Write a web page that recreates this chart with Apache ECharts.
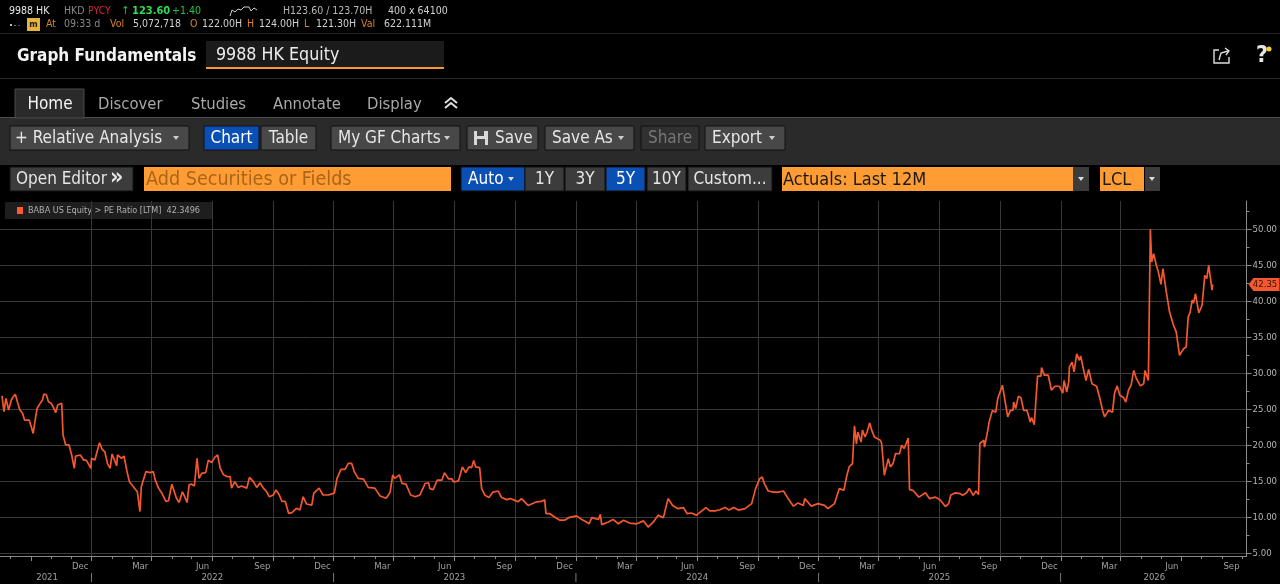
<!DOCTYPE html>
<html><head><meta charset="utf-8">
<style>html,body{margin:0;padding:0;background:#000;overflow:hidden}#c{width:1280px;height:584px}</style>
<script src="https://cdn.jsdelivr.net/npm/echarts@6/dist/echarts.min.js"></script>
</head><body><div id="c"></div>
<script>
const startDate = '2021-07-16';
const endDate = '2026-09-07';
const dayOffsets = [3,6,9,13,17,20,23,27,30,34,37,40,44,47,50,53,56,60,64,66,70,73,77,80,84,87,93,95,99,104,108,112,114,121,126,130,137,138,143,147,150,154,158,162,166,169,176,177,183,187,191,195,201,207,211,213,216,220,226,231,234,239,244,247,250,254,259,262,266,270,275,278,282,285,289,293,297,300,304,310,314,319,324,328,332,337,342,347,349,354,359,364,372,376,382,387,392,397,402,406,412,416,421,425,430,435,440,447,452,457,462,470,473,481,487,495,504,508,514,520,525,530,534,540,548,555,565,573,582,588,592,595,602,606,612,619,626,633,641,646,
648,653,659,666,670,676,681,684,691,697,702,707,711,714,717,723,726,731,737,743,751,756,764,769,776,781,786,796,809,816,821,823,829,836,844,851,857,869,877,884,888,892,902,905,907,917,924,932,940,949,960,970,977,985,992,1000,1007,1014,1022,1030,1036,1042,1050,1056,1064,1070,1078,1085,1093,1099,1106,1113,1123,1133,1139,1145,1149,1152,1158,1166,1173,1181,1188,1196,1203,1211,1213,1223,1233,1243,1248,1258,1265,1272,1276,1280,1285,
1288,1291,1293,1298,1300,1304,1307,1311,1314,1318,1327,1329,1333,1339,1342,1346,1350,1356,1359,1363,1369,1371,1376,1385,1395,1401,1410,1417,1425,1430,1433,1440,1447,1451,1457,1461,1467,1471,1475,1477,1483,1484,1489,1491,1496,1501,1504,1507,1511,1514,1519,1523,1527,1528,1531,1535,1539,1543,1548,1553,1555,1559,1562,1564,1569,1570,1574,1580,1585,1590,1597,1602,1604,1608,1611,1612,1616,1619,1623,1627,1629,1633,1637,1641,1646,1653,1658,1662,1665,1671,1677,1680,1684,1688,1694,1697,1701,1705,1709,1713,1716,1719,1724,1726,1731,1734,1736,1739,1743,1746,1750,1753,1758,1763,1766,1769,1773,1778,1784,1788,1791,1794,1797,1799,1802,1807,1812,1816,1819,1822,1827,1828];
const peRatio = [26.85,24.68,26.5,24.9,26.3,26.75,27.1,25.8,24.9,24.45,23.5,23.3,23.5,22.6,21.65,23.5,25.15,25.75,26.3,27.1,27.0,26.05,25.85,25.35,24.55,25.6,25.85,21.45,20.05,20.05,18.65,16.8,18.5,18.65,17.95,17.95,16.8,18.2,17.95,19.35,20.35,19.45,19.1,17.5,16.8,18.8,17.15,18.65,18.2,18.5,16.55,14.95,14.25,13.55,10.8,14.25,14.5,16.35,16.2,16.35,15.2,14.05,13.35,13.1,12.2,12.3,14.6,14.7,12.65,12.05,13.55,12.95,12.05,14.5,14.6,14.35,18.2,15.4,16.1,16.2,17.95,17.6,18.35,18.65,16.8,15.9,15.65,15.65,14.05,14.95,14.15,14.35,14.05,15.55,14.95,14.15,14.8,14.05,13.55,12.85,13.1,13.8,13.1,12.2,12.2,10.55,10.65,11.25,11.0,12.85,11.85,11.7,13.35,14.05,13.1,13.1,13.35,15.4,16.65,16.65,17.5,17.5,16.35,15.4,15.3,14.15,14.05,12.95,12.65,13.45,15.9,15.4,15.9,14.7,14.6,13.1,12.85,13.1,14.7,14.8,
13.98,13.85,15.15,15.15,16.2,15.35,15.35,14.9,15.05,17.0,16.2,17.0,16.9,17.9,17.0,16.9,13.98,13.05,12.75,13.5,13.65,12.75,12.45,12.6,12.35,12.15,12.6,11.65,12.15,12.2,12.45,10.5,10.5,10.05,9.6,9.6,9.95,10.2,9.7,9.35,9.1,9.95,9.7,10.4,8.98,9.35,9.7,9.1,9.6,9.2,9.1,9.5,8.65,9.35,10.3,9.95,12.6,11.65,11.2,11.35,10.5,10.6,10.3,10.75,11.35,10.9,10.9,11.05,11.35,11.0,11.35,11.0,11.2,11.9,13.98,15.35,15.6,14.7,13.65,13.5,13.5,13.65,12.6,11.55,12.0,11.65,12.6,11.55,11.9,11.65,11.2,11.9,13.98,13.75,15.6,17.0,17.45,
22.7,20.2,21.85,20.45,22.1,21.15,21.85,23.1,22.1,21.15,20.7,20.25,15.85,18.15,17.0,17.45,18.85,18.85,20.0,19.55,21.0,13.85,13.75,12.8,13.4,12.6,12.8,12.45,11.5,11.9,13.05,13.4,13.3,13.05,13.4,14.0,13.05,13.65,13.15,20.25,20.7,19.75,22.1,23.25,24.85,24.6,26.5,26.25,28.35,28.1,23.95,24.85,24.85,26.0,25.1,26.8,26.6,24.85,24.85,23.25,23.85,22.85,22.9,29.6,29.6,30.8,29.75,29.75,27.65,28.2,28.2,27.25,29.0,27.4,28.8,30.9,31.55,30.2,32.7,31.8,32.4,30.65,29.0,30.55,28.55,28.2,26.5,24.85,23.95,24.85,24.6,27.25,28.25,26.95,26.6,26.0,27.65,28.35,30.4,29.25,29.5,28.25,28.55,30.4,29.0,50.0,45.45,46.6,45.0,44.1,42.35,44.55,41.3,38.5,38.3,36.65,35.75,32.5,33.4,33.65,37.8,38.5,40.15,39.75,41.05,38.4,39.45,43.6,43.15,45.0,41.55,42.35];
const lastValue = 42.35;
const gridQuarters = ['2021-09-01','2021-12-01','2022-03-01','2022-06-01','2022-09-01','2022-12-01','2023-03-01','2023-06-01','2023-09-01','2023-12-01','2024-03-01','2024-06-01','2024-09-01','2024-12-01','2025-03-01','2025-06-01','2025-09-01','2025-12-01','2026-03-01','2026-06-01'];
const labelQuarters = ['2021-12-01','2022-03-01','2022-06-01','2022-09-01','2022-12-01','2023-03-01','2023-06-01','2023-09-01','2023-12-01','2024-03-01','2024-06-01','2024-09-01','2024-12-01','2025-03-01','2025-06-01','2025-09-01','2025-12-01','2026-03-01','2026-06-01','2026-09-01'];
const monthTicks = ['2021-08-01','2021-09-01','2021-10-01','2021-11-01','2021-12-01','2022-01-01','2022-02-01','2022-03-01','2022-04-01','2022-05-01','2022-06-01','2022-07-01','2022-08-01','2022-09-01','2022-10-01','2022-11-01','2022-12-01','2023-01-01','2023-02-01','2023-03-01','2023-04-01','2023-05-01','2023-06-01','2023-07-01','2023-08-01','2023-09-01','2023-10-01','2023-11-01','2023-12-01','2024-01-01','2024-02-01','2024-03-01','2024-04-01','2024-05-01','2024-06-01','2024-07-01','2024-08-01','2024-09-01','2024-10-01','2024-11-01','2024-12-01','2025-01-01','2025-02-01','2025-03-01','2025-04-01','2025-05-01','2025-06-01','2025-07-01','2025-08-01','2025-09-01','2025-10-01','2025-11-01','2025-12-01','2026-01-01','2026-02-01','2026-03-01','2026-04-01','2026-05-01','2026-06-01','2026-07-01','2026-08-01','2026-09-01'];
const yearLabels = [['2021-09-25','2021'],['2021-12-01','|'],['2022-06-01','2022'],['2022-12-01','|'],['2023-06-01','2023'],['2023-12-01','|'],['2024-06-01','2024'],['2024-12-01','|'],['2025-06-01','2025'],['2025-12-01','|'],['2026-04-21','2026']];
const monthNames = ['Jan','Feb','Mar','Apr','May','Jun','Jul','Aug','Sep','Oct','Nov','Dec'];
const yTicks = [5,10,15,20,25,30,35,40,45,50];
const yMinorTicks = [7.5,12.5,17.5,22.5,27.5,32.5,37.5,42.5,47.5,52.5];

const ts = s => Date.parse(s + 'T00:00:00Z');
const t0 = ts(startDate);
const lineData = dayOffsets.map((d, i) => [t0 + d * 86400000, peRatio[i]]);
const yearMap = {}; yearLabels.forEach(y => { yearMap[ts(y[0])] = y[1]; });

const FONT = '"DejaVu Sans Condensed","Liberation Sans Narrow","DejaVu Sans",sans-serif';
const g = [];
function rect(x, y, w, h, fill, stroke) {
  g.push({type:'rect', silent:true, shape:{x, y, width:w, height:h},
    style:{fill: fill || 'transparent', stroke: stroke || null, lineWidth: stroke ? 1 : 0}});
}
function text(x, y, s, color, size, weight, align) {
  g.push({type:'text', silent:true, x, y, style:{text:s, fill:color, font:(weight||'normal')+' '+size+'px '+FONT, textAlign:align||'left', textVerticalAlign:'middle'}});
}
function button(x, w, y, h, label, opts) {
  opts = opts || {};
  rect(x, y, w, h, opts.fill || '#484848', opts.stroke || '#111');
  text(opts.tx !== undefined ? opts.tx : x + w / 2, y + h / 2 + 1, label, opts.color || '#e6e6e6', opts.size || 17, 'normal', opts.tx !== undefined ? 'left' : 'center');
}
function caret(x, y, color) {
  g.push({type:'polygon', silent:true, shape:{points:[[x-3,y-2],[x+3,y-2],[x,y+2]]}, style:{fill:color||'#ccc'}});
}

// top quote strip
[[9,'9988 HK','#e8e8e8'],[64,'HKD','#8a8a8a'],[88,'PYCY','#d8243c'],[172,'+1.40','#26c24a'],[283,'H123.60 / 123.70H','#b8b8b8'],[388,'400 x 64100','#d0d0d0']].forEach(a => text(a[0], 11, a[1], a[2], 10.5));
text(121, 11, '↑', '#26c24a', 11);
text(132, 11, '123.60', '#2fdc55', 11, 'bold');
g.push({type:'polyline', silent:true, shape:{points:[[230,16],[232,10],[235,12],[238,9],[241,10],[244,7],[249,7],[251,11],[254,8],[257,10]]}, style:{stroke:'#cfcfcf', lineWidth:1, fill:null}});
rect(10, 24, 2, 2, '#bbb'); rect(14, 25, 2, 1, '#777'); rect(18, 25, 2, 1, '#555');
rect(27, 18, 13, 13, '#e8b33a');
text(33.5, 25, 'm', '#222', 9, 'bold', 'center');
[[46,'At','#d9822b'],[64,'09:33 d','#8a8a8a'],[110,'Vol','#d9822b'],[133,'5,072,718','#d0d0d0'],[190,'O','#d9822b'],[202,'122.00H','#d0d0d0'],[247,'H','#d9822b'],[259,'124.00H','#d0d0d0'],[304,'L','#d9822b'],[316,'121.30H','#d0d0d0'],[361,'Val','#d9822b'],[384,'622.111M','#d0d0d0']].forEach(a => text(a[0], 24, a[1], a[2], 10.5));
rect(0, 33, 1280, 1, '#222');

// title row
text(17, 57, 'Graph Fundamentals', '#f2f2f2', 17, 'bold');
rect(206, 41, 238, 27, '#1b1b1b');
rect(206, 67, 238, 2, '#f59a30');
text(216, 55, '9988 HK Equity', '#ececec', 17.7);
rect(0, 78, 1280, 1, '#2a2a2a');
// share and help icons
g.push({type:'polyline', silent:true, shape:{points:[[1219,50],[1214,50],[1214,63],[1229,63],[1229,57]]}, style:{stroke:'#ddd', lineWidth:1.4, fill:null}});
g.push({type:'polyline', silent:true, shape:{points:[[1219,60],[1221,53],[1228,51]]}, style:{stroke:'#ddd', lineWidth:1.4, fill:null}});
g.push({type:'polyline', silent:true, shape:{points:[[1225,48],[1229,51],[1226,55]]}, style:{stroke:'#ddd', lineWidth:1.4, fill:null}});
text(1262, 56, '?', '#e6e6e6', 23, 'bold', 'center');
g.push({type:'circle', silent:true, shape:{cx:1269, cy:49, r:2.5}, style:{fill:'#f5d020'}});

// tabs
rect(0, 117, 1280, 48, '#2a2a2a');
rect(0, 117, 1280, 1, '#505050');
rect(15, 89, 69, 29, '#2a2a2a', '#4a4a4a');
text(50, 105, 'Home', '#f2f2f2', 17, 'normal', 'center');
[[98,'Discover'],[191,'Studies'],[273,'Annotate'],[367,'Display']].forEach(a => text(a[0], 105, a[1], '#a8a8a8', 16.5));
[[451,103],[451,108]].forEach(p => g.push({type:'polyline', silent:true, shape:{points:[[p[0]-6,p[1]],[p[0],p[1]-5],[p[0]+6,p[1]]]}, style:{stroke:'#ddd', lineWidth:2, fill:null}}));

// toolbar row
button(10, 179, 126, 24, '+ Relative Analysis', {tx:15}); caret(176, 138);
button(204, 55, 126, 24, 'Chart', {fill:'#0a4fb3', color:'#fff'});
button(261, 55, 126, 24, 'Table');
button(331, 129, 126, 24, 'My GF Charts', {tx:338}); caret(447, 138);
button(467, 71, 126, 24, 'Save', {tx:495});
rect(474, 131, 14, 14, '#d8d8d8'); rect(477, 131, 7, 5, '#484848'); rect(477, 139, 8, 6, '#484848');
button(545, 89, 126, 24, 'Save As', {tx:552}); caret(621, 138);
button(641, 58, 126, 24, 'Share', {fill:'#303030', color:'#777'});
button(705, 80, 126, 24, 'Export', {tx:712}); caret(772, 138);

// range row
button(10, 123, 167, 24, 'Open Editor', {fill:'#3c3c3c', tx:16});
text(110, 178, '»', '#e6e6e6', 23, 'bold');
rect(144, 167, 307, 24, '#ff9c33');
text(146, 180, 'Add Securities or Fields', '#a8661c', 19.6);
button(461, 64, 167, 24, 'Auto', {fill:'#0a4fb3', color:'#fff', tx:468}); caret(511, 179, '#ddd');
button(525, 39, 167, 24, '1Y', {fill:'#3c3c3c'});
button(565, 40, 167, 24, '3Y', {fill:'#3c3c3c'});
button(606, 39, 167, 24, '5Y', {fill:'#0a4fb3', color:'#fff'});
button(647, 39, 167, 24, '10Y', {fill:'#3c3c3c'});
button(688, 84, 167, 24, 'Custom...', {fill:'#3c3c3c'});
rect(782, 167, 291, 24, '#ff9c33');
text(783, 180, 'Actuals: Last 12M', '#1a1a1a', 18);
rect(1073, 167, 16, 24, '#3c3c3c'); caret(1081, 179, '#ddd');
rect(1100, 167, 44, 24, '#ff9c33');
text(1102, 180, 'LCL', '#1a1a1a', 18);
rect(1145, 167, 15, 24, '#3c3c3c'); caret(1152, 179, '#ddd');

// legend
rect(5, 202, 208, 17, '#1e1e1e');
rect(17, 207, 6, 7, '#ff5a30');
text(28, 211, 'BABA US Equity > PE Ratio [LTM]  42.3496', '#b0b0b0', 9);

const axisLine = {show:true, onZero:false, lineStyle:{color:'#8a8a8a', width:1}};
const chart = echarts.init(document.getElementById('c'), null, {width:1280, height:584});
chart.setOption({
  backgroundColor:'#000',
  animation:false,
  grid:{left:0, right:33, top:201, bottom:28, containLabel:false},
  xAxis:[
    {type:'value', min:t0, max:ts(endDate), position:'bottom', axisLine,
      axisTick:{show:true, length:5, lineStyle:{color:'#8a8a8a'}, customValues:gridQuarters.map(ts)},
      splitLine:{show:true, showMinLine:false, showMaxLine:false, lineStyle:{color:'#383838', width:1}},
      axisLabel:{show:true, customValues:labelQuarters.map(ts), align:'right', margin:6, padding:[0,3,0,0], color:'#a0a0a0', fontSize:9.5, fontFamily:FONT, hideOverlap:false,
        formatter:v => monthNames[new Date(v).getUTCMonth()]}},
    {type:'value', min:t0, max:ts(endDate), position:'bottom', axisLine:{show:false},
      axisTick:{show:true, length:3, lineStyle:{color:'#8a8a8a'}, customValues:monthTicks.map(ts)},
      splitLine:{show:false}, axisLabel:{show:false}},
    {type:'value', min:t0, max:ts(endDate), position:'bottom', axisLine:{show:false}, axisTick:{show:false}, splitLine:{show:false},
      axisLabel:{show:true, customValues:yearLabels.map(y => ts(y[0])), margin:17, color:'#a0a0a0', fontSize:9.5, fontFamily:FONT, hideOverlap:false,
        formatter:v => yearMap[v] || ''}}
  ],
  yAxis:[
    {type:'value', min:4.625, max:53.93, position:'right', axisLine,
      axisTick:{show:true, length:5, lineStyle:{color:'#8a8a8a'}, customValues:yTicks},
      splitLine:{show:true, lineStyle:{color:'#3a3a3a', width:1}},
      axisLabel:{show:true, customValues:yTicks, margin:6, color:'#b4b4b4', fontSize:9.5, fontFamily:FONT, hideOverlap:false, formatter:v => v.toFixed(2)}},
    {type:'value', min:4.625, max:53.93, position:'right', axisLine:{show:false},
      axisTick:{show:true, length:3, lineStyle:{color:'#8a8a8a'}, customValues:yMinorTicks},
      splitLine:{show:false}, axisLabel:{show:false}}
  ],
  graphic:{elements:g},
  series:[{
    type:'line', name:'BABA US Equity > PE Ratio [LTM]', xAxisIndex:0, yAxisIndex:0, data:lineData,
    showSymbol:false, smooth:false, clip:true, lineStyle:{color:'#f4582e', width:1.7},
    markPoint:{silent:true, animation:false,
      data:[{coord:[ts(endDate), lastValue], symbol:'path://M0 5 L5 0 L32 0 L32 10 L5 10 Z', symbolSize:[31,13], symbolKeepAspect:false, symbolOffset:[17.5,0],
        itemStyle:{color:'#f4582e'}, label:{show:true, formatter:lastValue.toFixed(2), color:'#3a0f00', fontSize:9.5, fontFamily:FONT, position:'inside', offset:[1,0]}}]}
  }]
});
</script></body></html>
